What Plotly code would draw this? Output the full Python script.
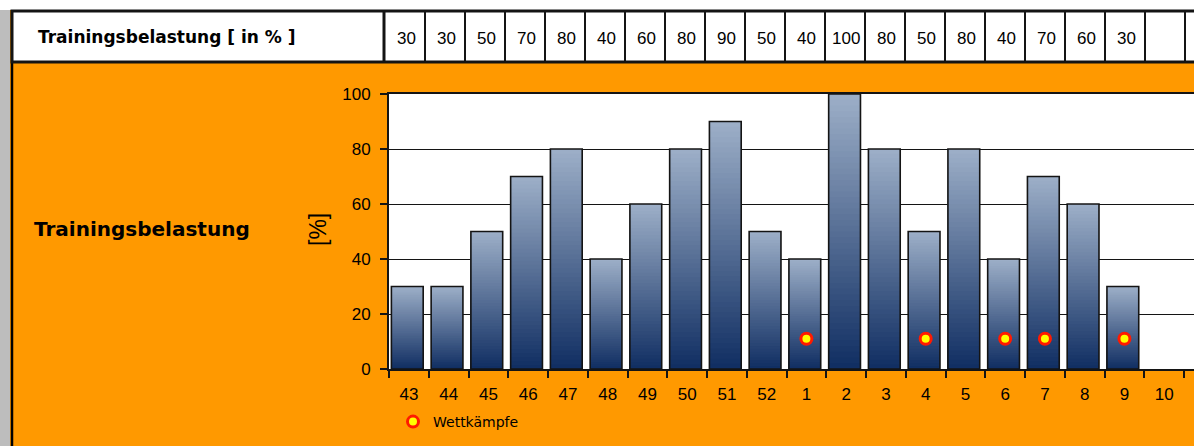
import plotly.graph_objects as go

# ---------------- data ----------------
weeks = ["43", "44", "45", "46", "47", "48", "49", "50", "51", "52",
         "1", "2", "3", "4", "5", "6", "7", "8", "9", "10"]
load = [30, 30, 50, 70, 80, 40, 60, 80, 90, 50,
        40, 100, 80, 50, 80, 40, 70, 60, 30, None]
comp_weeks = ["1", "4", "6", "7", "9"]
comp_level = [11, 11, 11, 11, 11]
y_ticks = [0, 20, 40, 60, 80, 100]

header_title = "Trainingsbelastung [ in % ]"
side_title = "Trainingsbelastung"
unit_title = "[%]"
legend_name = "Wettkämpfe"

# ---------------- geometry helpers (pixels -> paper) ----------------
W, H = 1194, 446
L, R, T, B = 389, 0, 94, 77
PW, PH = W - L - R, H - T - B


def px(x):
    return (x - L) / PW


def py(y):
    return (H - B - y) / PH


ORANGE = "#FF9900"
DARK = "#141414"
TOP_C = (156, 174, 199)
BOT_C = (17, 47, 99)
N = 48

fig = go.Figure()

# gradient bars: tallest (lightest) first, shorter (darker) ones on top
for j in range(N - 1, -1, -1):
    t = j / (N - 1)
    c = tuple(round(BOT_C[k] + (TOP_C[k] - BOT_C[k]) * t) for k in range(3))
    fig.add_trace(go.Bar(
        x=weeks,
        y=[None if v is None else v * (j + 1) / N for v in load],
        base=0,
        width=0.8, offset=-0.44,
        marker=dict(color="rgb(%d,%d,%d)" % c, line=dict(width=0)),
        showlegend=False, hoverinfo="skip",
    ))

# outline of the bars
fig.add_trace(go.Bar(
    x=weeks, y=load, base=0, width=0.8, offset=-0.44,
    marker=dict(color="rgba(0,0,0,0)", line=dict(color=DARK, width=1.6)),
    showlegend=False, hoverinfo="skip",
))

# competitions
fig.add_trace(go.Scatter(
    x=comp_weeks, y=comp_level, mode="markers", name=legend_name,
    marker=dict(symbol="circle", size=11, color="#FFFF00",
                line=dict(color="#FF1A00", width=3)),
    showlegend=True,
))

shapes = []
annotations = []

# white strip at the very top
shapes.append(dict(type="rect", xref="paper", yref="paper",
                   x0=px(0), x1=px(W + 5), y0=py(10), y1=py(-5),
                   fillcolor="white", line=dict(width=0), layer="above"))
# left grey strip
shapes.append(dict(type="rect", xref="paper", yref="paper",
                   x0=px(0), x1=px(10), y0=py(H + 5), y1=py(10),
                   fillcolor="#BDBDBD", line=dict(width=0), layer="above"))
# black left border
shapes.append(dict(type="line", xref="paper", yref="paper",
                   x0=px(12), x1=px(12), y0=py(H + 5), y1=py(10),
                   line=dict(color="black", width=2.5), layer="above"))
# header box
shapes.append(dict(type="rect", xref="paper", yref="paper",
                   x0=px(12), x1=px(W + 20), y0=py(62), y1=py(11),
                   fillcolor="white", line=dict(color=DARK, width=3), layer="above"))
# header cell separators
shapes.append(dict(type="line", xref="paper", yref="paper",
                   x0=px(384), x1=px(384), y0=py(62), y1=py(11),
                   line=dict(color=DARK, width=3), layer="above"))
for k in range(1, len(weeks) + 1):
    xx = 385 + 40 * k
    shapes.append(dict(type="line", xref="paper", yref="paper",
                       x0=px(xx), x1=px(xx), y0=py(62), y1=py(11),
                       line=dict(color=DARK, width=2), layer="above"))

# header title
annotations.append(dict(text="<b>%s</b>" % header_title, xref="paper", yref="paper",
                        x=px(36), y=py(37), xanchor="left", yanchor="middle",
                        showarrow=False,
                        font=dict(family="DejaVu Sans", size=17, color="black")))
# header values
for i, v in enumerate(load):
    annotations.append(dict(text="" if v is None else str(v), xref="paper", yref="paper",
                            x=px(406 + 40 * i), y=py(38), xanchor="center", yanchor="middle",
                            showarrow=False,
                            font=dict(family="Liberation Sans", size=17, color="black")))

# left-side labels
annotations.append(dict(text="<b>%s</b>" % side_title, xref="paper", yref="paper",
                        x=px(32), y=py(229), xanchor="left", yanchor="middle",
                        showarrow=False,
                        font=dict(family="DejaVu Sans", size=20, color="black")))
annotations.append(dict(text=unit_title, xref="paper", yref="paper",
                        x=px(318), y=py(230), xanchor="center", yanchor="middle",
                        textangle=-90, showarrow=False,
                        font=dict(family="Liberation Sans", size=23, color="black")))

fig.update_layout(
    width=W, height=H,
    margin=dict(l=L, r=R, t=T, b=B, pad=0),
    paper_bgcolor=ORANGE,
    plot_bgcolor="white",
    barmode="overlay",
    shapes=shapes,
    annotations=annotations,
    legend=dict(x=px(393), y=py(406), xanchor="left", yanchor="top",
                bgcolor="rgba(0,0,0,0)", borderwidth=0,
                font=dict(family="DejaVu Sans", size=14, color="black"),
                itemwidth=30, tracegroupgap=0),
    xaxis=dict(type="category", categoryorder="array", categoryarray=weeks,
               range=[-0.5, 19.75], showgrid=False, zeroline=False,
               showline=True, linecolor=DARK, linewidth=2, mirror=True,
               ticks="outside", tickson="boundaries", ticklen=7,
               tickwidth=1.5, tickcolor=DARK, ticklabelstandoff=9,
               tickfont=dict(family="Liberation Sans", size=17, color="black"),
               fixedrange=True),
    yaxis=dict(range=[0, 100], tickvals=y_ticks, showgrid=True,
               gridcolor=DARK, gridwidth=1, zeroline=False,
               showline=True, linecolor=DARK, linewidth=2,
               ticks="outside", ticklen=7, tickwidth=1.5, tickcolor=DARK,
               ticklabelstandoff=6,
               tickfont=dict(family="Liberation Sans", size=17, color="black"),
               fixedrange=True),
)

fig.write_html("out.html")
